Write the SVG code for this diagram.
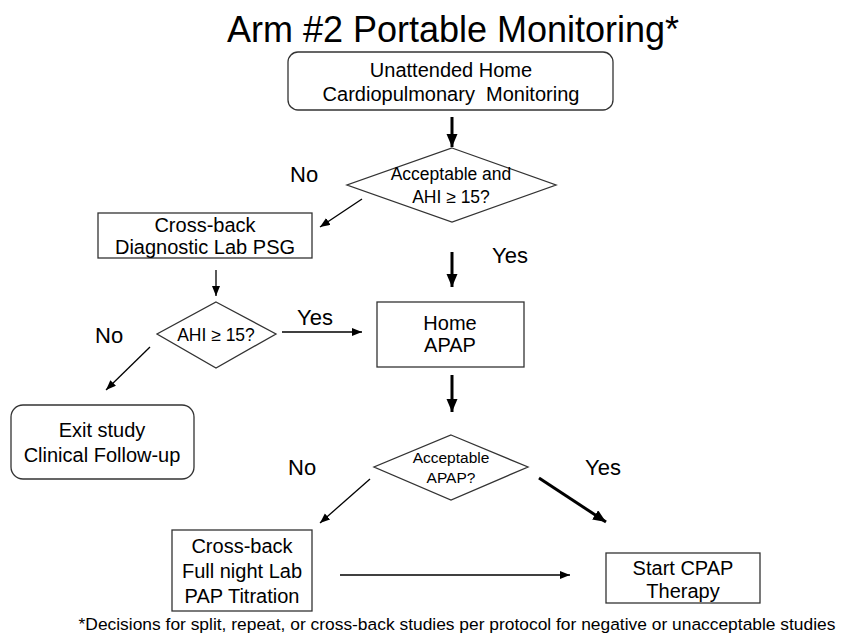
<svg xmlns="http://www.w3.org/2000/svg" width="845" height="636" viewBox="0 0 845 636">
<style>
  text { font-family: "Liberation Sans", Arial, sans-serif; fill: #000; }
  .box { fill: #fff; stroke: #333; stroke-width: 1.3; }
  .bt { font-size: 20px; text-anchor: middle; }
  .lbl { font-size: 22px; }
  .thin { stroke: #000; stroke-width: 1.3; fill: none; marker-end: url(#ah); }
  .thick { stroke: #000; stroke-width: 3; fill: none; marker-end: url(#ahb); }
</style>
<defs>
  <marker id="ah" markerUnits="userSpaceOnUse" markerWidth="11" markerHeight="9" refX="10" refY="4" orient="auto">
    <path d="M0,0 L10,4 L0,8 z" fill="#000"/>
  </marker>
  <marker id="ahb" markerUnits="userSpaceOnUse" markerWidth="14" markerHeight="12" refX="13" refY="5.5" orient="auto">
    <path d="M0,0 L13,5.5 L0,11 z" fill="#000"/>
  </marker>
</defs>
<rect width="845" height="636" fill="#fff"/>
<text x="453" y="42" font-size="36" text-anchor="middle">Arm #2 Portable Monitoring*</text>

<g id="connectors">
  <line class="thick" x1="452" y1="117" x2="452" y2="147"/>
  <line class="thin" x1="362" y1="199" x2="320" y2="227"/>
  <line class="thin" x1="216" y1="270" x2="216" y2="296"/>
  <line class="thin" x1="282" y1="332" x2="362" y2="332"/>
  <line class="thick" x1="452" y1="252" x2="452" y2="287"/>
  <line class="thin" x1="150" y1="347" x2="106" y2="390"/>
  <line class="thick" x1="452" y1="375" x2="452" y2="412"/>
  <line class="thin" x1="370" y1="479" x2="320" y2="523"/>
  <line class="thick" x1="539" y1="478" x2="606" y2="522"/>
  <line class="thin" x1="340" y1="575" x2="570" y2="575"/>
</g>

<g id="labels">
  <text class="lbl" x="290" y="182">No</text>
  <text class="lbl" x="95" y="343">No</text>
  <text class="lbl" x="297" y="325">Yes</text>
  <text class="lbl" x="492" y="263">Yes</text>
  <text class="lbl" x="288" y="475">No</text>
  <text class="lbl" x="585" y="475">Yes</text>
</g>

<g id="n-home-monitoring">
  <rect class="box" x="288" y="52" width="325" height="58" rx="10"/>
  <text class="bt" x="451" y="77">Unattended Home</text>
  <text class="bt" x="451" y="101" xml:space="preserve">Cardiopulmonary  Monitoring</text>
</g>

<g id="d-acceptable-ahi">
  <polygon class="box" points="452,148 556,185 452,222 347,185"/>
  <text x="451" y="180" font-size="17.5" text-anchor="middle">Acceptable and</text>
  <text x="451" y="203" font-size="17.5" text-anchor="middle">AHI ≥ 15?</text>
</g>

<g id="n-crossback-psg">
  <rect class="box" x="98" y="213" width="214" height="45"/>
  <text class="bt" x="205" y="232">Cross-back</text>
  <text class="bt" x="205" y="254">Diagnostic Lab PSG</text>
</g>

<g id="d-ahi">
  <polygon class="box" points="216,302 276,334 216,368 157,334"/>
  <text x="216" y="341" font-size="17.5" text-anchor="middle">AHI ≥ 15?</text>
</g>

<g id="n-home-apap">
  <rect class="box" x="377" y="302" width="147" height="65"/>
  <text class="bt" x="450" y="330">Home</text>
  <text class="bt" x="450" y="352">APAP</text>
</g>

<g id="n-exit">
  <rect class="box" x="11" y="405" width="183" height="74" rx="12"/>
  <text class="bt" x="102" y="437">Exit study</text>
  <text class="bt" x="102" y="462">Clinical Follow-up</text>
</g>

<g id="d-acceptable-apap">
  <polygon class="box" points="451,435 528,467 451,500 374,467"/>
  <text x="451" y="463" font-size="15.5" text-anchor="middle">Acceptable</text>
  <text x="451" y="483" font-size="15.5" text-anchor="middle">APAP?</text>
</g>

<g id="n-crossback-titration">
  <rect class="box" x="172" y="530" width="140" height="81"/>
  <text class="bt" x="242" y="553">Cross-back</text>
  <text class="bt" x="242" y="578">Full night Lab</text>
  <text class="bt" x="242" y="603">PAP Titration</text>
</g>

<g id="n-start-cpap">
  <rect class="box" x="606" y="553" width="154" height="50"/>
  <text class="bt" x="683" y="575">Start CPAP</text>
  <text class="bt" x="683" y="598">Therapy</text>
</g>

<text x="457" y="630" font-size="17.4" text-anchor="middle">*Decisions for split, repeat, or cross-back studies per protocol for negative or unacceptable studies</text>
</svg>
